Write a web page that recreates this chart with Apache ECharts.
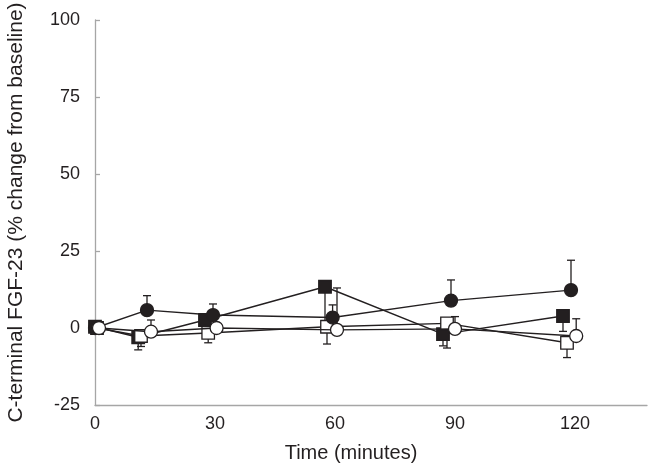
<!DOCTYPE html>
<html>
<head>
<meta charset="utf-8">
<script src="https://cdn.jsdelivr.net/npm/echarts@6/dist/echarts.min.js"></script>
<style>
html,body{margin:0;padding:0;background:#fff;}
#chart{width:652px;height:468px;}
</style>
</head>
<body>
<div id="chart"></div>
<script>
// Filled circles (error bars up)
const fcTime = [0, 13, 29.5, 59.4, 89, 119];
const fcValue = [0, 5.8, 4.2, 3.4, 8.9, 12.3];
const fcErr = [0, 4.7, 3.6, 4.1, 6.7, 9.7];
// Filled squares (error bars down)
const fsTime = [0, 10.8, 27.5, 57.5, 87, 117];
const fsValue = [0.4, -3, 2.6, 13.4, -2, 3.9];
const fsErr = [0, 4.1, 1.5, 11, 3.8, 5];
// Open squares (error bars down)
const osTime = [0.5, 11.5, 28.3, 58, 88, 118];
const osValue = [0, -2.6, -1.6, 0.4, 1.5, -4.8];
const osErr = [0, 3.4, 3.2, 5.6, 8, 4.8];
// Open circles (error bars up)
const ocTime = [1, 14, 30.4, 60.5, 90, 120.3];
const ocValue = [0, -1.2, 0, -0.6, -0.3, -2.6];
const ocErr = [0, 3.8, 1.5, 13.6, 4, 5.6];

const xTicks = [0, 30, 60, 90, 120];
const yTicks = [-25, 0, 25, 50, 75, 100];

const INK = '#231f20';
const FONT = 'Liberation Sans, Arial, sans-serif';

function pts(t, v) { return t.map((x, i) => [x, v[i]]); }
function errData(t, v, e, dir) {
  return t.map((x, i) => [x, v[i], v[i] + dir * e[i]]);
}
function errSeries(data) {
  return {
    type: 'custom',
    z: 1,
    silent: true,
    data: data,
    encode: { x: 0, y: [1, 2] },
    renderItem: function (params, api) {
      const p0 = api.coord([api.value(0), api.value(1)]);
      const p1 = api.coord([api.value(0), api.value(2)]);
      if (Math.abs(p1[1] - p0[1]) < 0.5) return null;
      const hw = 4;
      const st = { stroke: INK, lineWidth: 1.3 };
      return {
        type: 'group',
        children: [
          { type: 'line', shape: { x1: p0[0], y1: p0[1], x2: p1[0], y2: p1[1] }, style: st },
          { type: 'line', shape: { x1: p1[0] - hw, y1: p1[1], x2: p1[0] + hw, y2: p1[1] }, style: st }
        ]
      };
    }
  };
}
function lineSeries(data, symbol, filled, z) {
  return {
    type: 'line',
    z: z,
    data: data,
    symbol: symbol,
    symbolSize: symbol === 'rect' ? 12.5 : 13,
    showAllSymbol: true,
    lineStyle: { color: INK, width: 1.4 },
    itemStyle: { color: filled ? INK : '#fff', borderColor: INK, borderWidth: 1.3 },
    emphasis: { disabled: true },
    animation: false
  };
}

const chart = echarts.init(document.getElementById('chart'));
chart.setOption({
  animation: false,
  backgroundColor: '#fff',
  grid: { left: 95, right: 5, top: 20, bottom: 63, containLabel: false, outerBoundsMode: 'none' },
  xAxis: {
    type: 'value',
    min: 0,
    max: 138,
    interval: 30,
    name: 'Time (minutes)',
    nameLocation: 'middle',
    nameGap: 38,
    nameTextStyle: { fontFamily: FONT, fontSize: 20, color: INK, padding: [0, 40, 0, 0] },
    axisLine: { onZero: false, lineStyle: { color: '#a6a6a6', width: 1.3 } },
    axisTick: { show: false },
    splitLine: { show: false },
    axisLabel: {
      fontFamily: FONT, fontSize: 18, color: INK, margin: 10,
      formatter: function (v) { return xTicks.indexOf(v) >= 0 ? String(v) : ''; }
    }
  },
  yAxis: {
    type: 'value',
    min: -25,
    max: 100,
    interval: 25,
    name: 'C-terminal FGF-23 (% change from baseline)',
    nameLocation: 'middle',
    nameGap: 68,
    nameRotate: 90,
    nameTextStyle: { fontFamily: FONT, fontSize: 21, color: INK },
    axisLine: { show: true, onZero: false, lineStyle: { color: '#a6a6a6', width: 1.3 } },
    axisTick: { show: true, inside: true, length: 5, lineStyle: { color: '#a6a6a6', width: 1.3 } },
    splitLine: { show: false },
    axisLabel: {
      fontFamily: FONT, fontSize: 18, color: INK, margin: 15,
      formatter: function (v) { return yTicks.indexOf(v) >= 0 ? String(v) : ''; }
    }
  },
  series: [
    errSeries(errData(fsTime, fsValue, fsErr, -1)),
    errSeries(errData(osTime, osValue, osErr, -1)),
    errSeries(errData(fcTime, fcValue, fcErr, 1)),
    errSeries(errData(ocTime, ocValue, ocErr, 1)),
    lineSeries(pts(fsTime, fsValue), 'rect', true, 3),
    lineSeries(pts(osTime, osValue), 'rect', false, 4),
    lineSeries(pts(fcTime, fcValue), 'circle', true, 5),
    lineSeries(pts(ocTime, ocValue), 'circle', false, 6)
  ]
});
</script>
</body>
</html>
